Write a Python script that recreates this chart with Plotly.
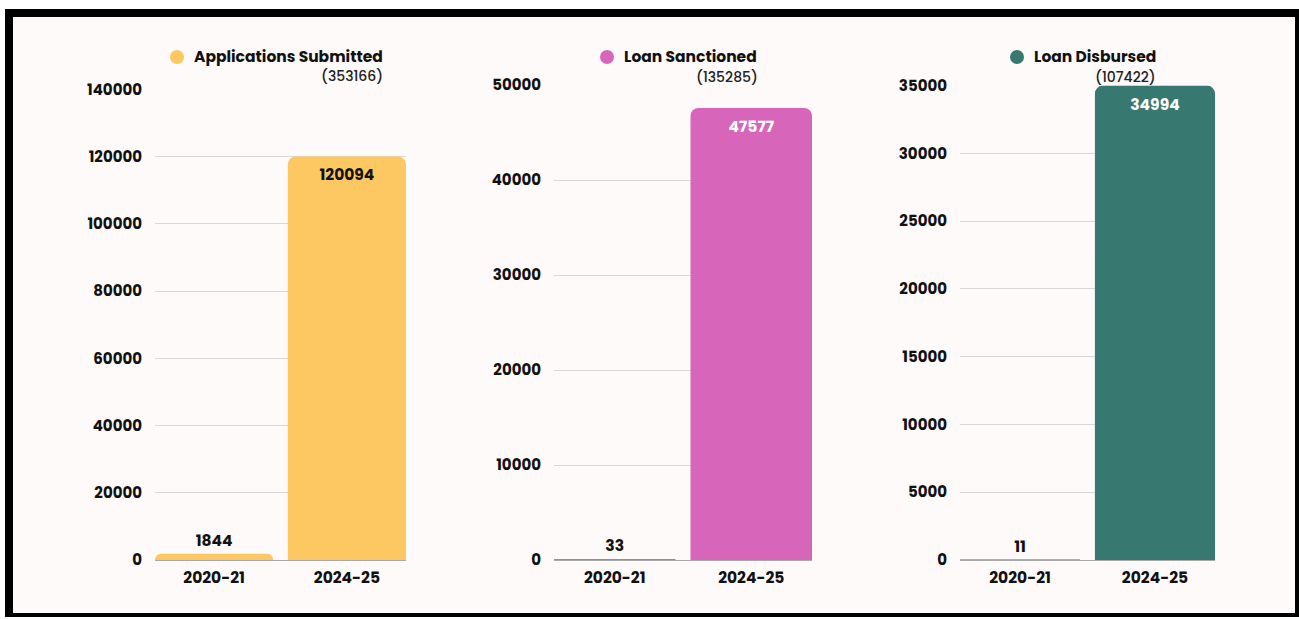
import plotly.graph_objects as go

W, H = 1299, 619

categories = ["2020-21", "2024-25"]
applications = [1844, 120094]
sanctioned = [33, 47577]
disbursed = [11, 34994]
series_values = [applications, sanctioned, disbursed]
titles = ["Applications Submitted", "Loan Sanctioned", "Loan Disbursed"]
totals = ["(353166)", "(135285)", "(107422)"]
y_max = [140000, 50000, 35000]
y_step = [20000, 10000, 5000]

colors = ["#FDC862", "#D766BB", "#377870"]
inside_text_colors = ["#111111", "#FFFFFF", "#FFFFFF"]

# layout geometry in pixels
x_dom_px = [(155, 406), (554, 812), (960, 1215)]
y_bottom_px = 560
y_top_px = [89.5, 85, 85.5]
marker_px = [(177, 57), (607, 57), (1017, 57)]
title_left_px = [193, 623, 1033]
total_right_px = [384, 759, 1157]
total_y_px = [76, 76.5, 77]

FONT = "Poppins, Inter, sans-serif"

def px_x(v):
    return v / W

def px_y(v):
    return 1 - v / H

fig = go.Figure()

shapes = [
    dict(type="rect", xref="paper", yref="paper", x0=px_x(5), x1=px_x(1299),
         y0=px_y(617), y1=px_y(9), fillcolor="#000000", line=dict(width=0), layer="below"),
    dict(type="rect", xref="paper", yref="paper", x0=px_x(13), x1=px_x(1295),
         y0=px_y(613), y1=px_y(17), fillcolor="#FEFAF9", line=dict(width=0), layer="below"),
]
annotations = []

for i in range(3):
    ax = "" if i == 0 else str(i + 1)
    vals = series_values[i]
    positions = ["inside" if v > 0.1 * y_max[i] else "outside" for v in vals]
    fig.add_trace(go.Bar(
        x=categories, y=vals, xaxis="x" + ax, yaxis="y" + ax,
        marker=dict(color=colors[i], cornerradius=8, line=dict(width=0)),
        width=0.89,
        text=[str(v) for v in vals], textposition=positions,
        insidetextanchor="end", textangle=0,
        insidetextfont=dict(family=FONT, size=15.5, color=inside_text_colors[i], weight="bold"),
        outsidetextfont=dict(family=FONT, size=15.5, color="#111111", weight="bold"),
        cliponaxis=False, showlegend=False, hoverinfo="x+y",
    ))
    x0, x1 = x_dom_px[i]
    fig.layout["xaxis" + ax] = dict(
        domain=[px_x(x0), px_x(x1)], anchor="y" + ax, range=[-0.445, 1.445],
        showgrid=False, showline=False, ticks="", ticklabelstandoff=6, automargin=False,
        tickfont=dict(family=FONT, size=15.5, color="#111111", weight="bold"),
    )
    fig.layout["yaxis" + ax] = dict(
        domain=[px_y(y_bottom_px), px_y(y_top_px[i])], anchor="x" + ax,
        range=[0, y_max[i]], dtick=y_step[i], tick0=0, tickformat="d",
        showgrid=True, gridcolor="#D9D7D7", gridwidth=1,
        zeroline=True, zerolinecolor="#A8A8A8", zerolinewidth=1,
        showline=False, ticks="", ticklabelstandoff=12, automargin=False,
        tickfont=dict(family=FONT, size=15, color="#111111", weight="bold"),
    )
    mx, my = marker_px[i]
    shapes.append(dict(type="circle", xref="paper", yref="paper",
                       x0=px_x(mx - 7), x1=px_x(mx + 7), y0=px_y(my + 7), y1=px_y(my - 7),
                       fillcolor=colors[i], line=dict(width=0)))
    annotations.append(dict(xref="paper", yref="paper", x=px_x(title_left_px[i]), y=px_y(56.5),
                            xanchor="left", yanchor="middle", showarrow=False, borderpad=0,
                            text=titles[i],
                            font=dict(family=FONT, size=15.5, color="#111111", weight="bold")))
    annotations.append(dict(xref="paper", yref="paper", x=px_x(total_right_px[i]), y=px_y(total_y_px[i]),
                            xanchor="right", yanchor="middle", showarrow=False, borderpad=0,
                            text=totals[i],
                            font=dict(family=FONT, size=14, color="#222222", weight=500)))

fig.update_layout(
    width=W, height=H, autosize=False,
    margin=dict(l=0, r=0, t=0, b=0, pad=0),
    paper_bgcolor="#FFFFFF", plot_bgcolor="rgba(0,0,0,0)",
    shapes=shapes, annotations=annotations,
    font=dict(family=FONT, color="#111111"),
)

fig.write_html("out.html", config={"displayModeBar": False},
               post_script="document.body.style.margin='0';")
